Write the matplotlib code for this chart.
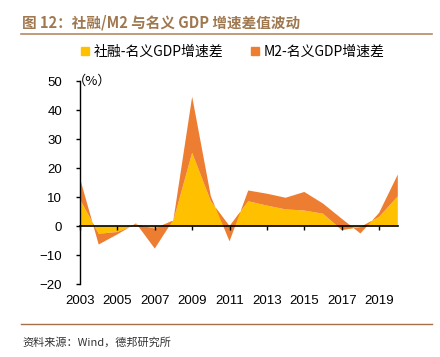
import numpy as np
import matplotlib.pyplot as plt
from matplotlib.lines import Line2D

plt.rcParams['font.family'] = ['Liberation Sans', 'Noto Sans CJK SC', 'DejaVu Sans']

years = list(range(2003, 2021))
# 社融-名义GDP增速差
sf_gap = [9.2, -2.6, -2.0, 0.6, -0.8, 2.0, 25.3, 8.6, 0.0, 8.6, 7.1, 5.8, 5.4, 4.3, -1.3, -0.3, 3.2, 10.3]
# M2-名义GDP增速差
m2_gap = [7.3, -3.7, -0.8, 0.4, -6.9, 0.3, 19.3, 1.7, -5.2, 3.7, 4.1, 4.0, 6.4, 3.5, 3.9, -2.2, 1.4, 7.5]
labels = ['社融-名义GDP增速差', 'M2-名义GDP增速差']
colors = ['#FFC000', '#ED7D31']
xticks = list(range(2003, 2021, 2))
yticks = list(range(-20, 51, 10))

fig = plt.figure(figsize=(4.4, 3.57), dpi=100)
ax = fig.add_axes([80/440, 1-284.3/357, 317.8/440, (284.3-81)/357])

ax.stackplot(years, sf_gap, m2_gap, colors=colors, linewidth=0)

ax.set_xlim(2003, 2020)
ax.set_ylim(-20, 50)
ax.set_yticks(yticks)
ax.set_xticks(xticks)

for pos in ['right', 'top']:
	ax.spines[pos].set_visible(False)
ax.spines['bottom'].set_position(('data', 0))
ax.spines['bottom'].set_linewidth(1.2)
ax.spines['left'].set_linewidth(1.0)
ax.tick_params(axis='x', direction='out', length=3, width=1, labelbottom=False)
ax.tick_params(axis='y', direction='out', length=3, width=1, pad=10, labelsize=9.5)

sec = ax.secondary_xaxis('bottom')
sec.set_xticks(xticks)
sec.tick_params(length=0, pad=8, labelsize=9.5)
sec.spines['bottom'].set_visible(False)

ax.text(-7/317.8, 1.0, '（%）', transform=ax.transAxes, fontsize=9.5,
	family=['Noto Sans CJK SC'], va='center', ha='left')

handles = [Line2D([], [], marker='s', linestyle='', color=c, markersize=6) for c in colors]
fig.legend(handles, labels, loc='center', bbox_to_anchor=(0.525, 1-52/357), ncol=2,
	frameon=False, prop={'family': 'Noto Sans CJK SC', 'size': 10},
	handletextpad=0.1, columnspacing=1.8, handlelength=1)

fig.text(22/440, 1-22/357, '图 12：社融/M2 与名义 GDP 增速差值波动', fontsize=10.5,
	fontweight='bold', color='#A07850', va='center', ha='left', family=['Noto Sans CJK SC'])
fig.add_artist(Line2D([21/440, 432/440], [1-34/357, 1-34/357], color='#B48A64', lw=1.2))
fig.add_artist(Line2D([21/440, 432/440], [1-324/357, 1-324/357], color='#A8704A', lw=1.0))
fig.text(22/440, 1-342/357, '资料来源：Wind，德邦研究所', fontsize=8, color='#333333',
	va='center', ha='left', family=['Noto Sans CJK SC'])

plt.savefig('out.png', dpi=100)
